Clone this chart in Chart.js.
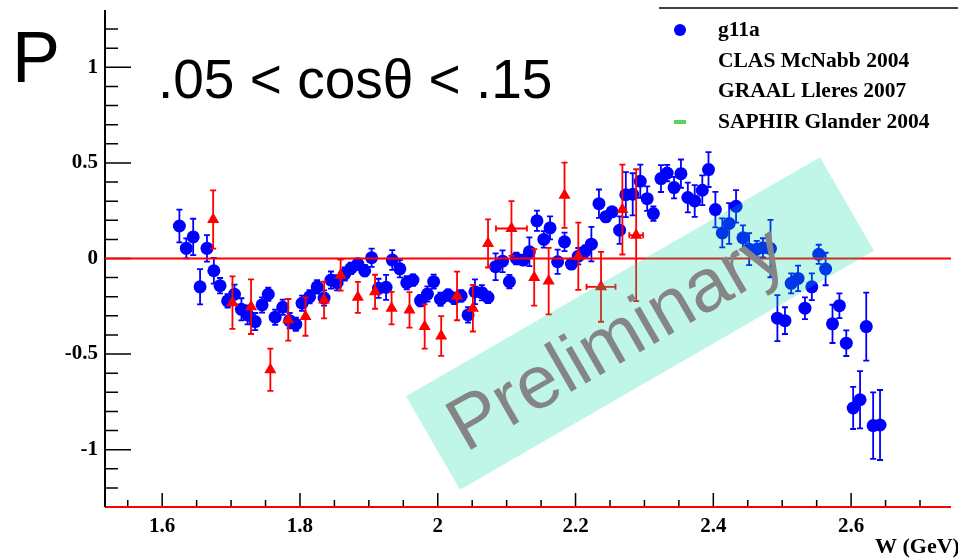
<!DOCTYPE html>
<html>
<head>
<meta charset="utf-8">
<script src="https://cdn.jsdelivr.net/npm/chart.js@4.4.0/dist/chart.umd.min.js"></script>
<style>
  html, body { margin: 0; padding: 0; background: #fff; overflow: hidden; }
  #plot { display: block; }
</style>
</head>
<body>
<canvas id="plot" width="958" height="560"></canvas>
<script>
// g11a beam-recoil polarization P vs W, bin .05 < cos(theta) < .15
const g11aW = [1.625, 1.635, 1.645, 1.655, 1.665, 1.675, 1.684, 1.695, 1.705, 1.715,
  1.724, 1.735, 1.745, 1.754, 1.764, 1.775, 1.785, 1.794, 1.803, 1.814,
  1.825, 1.835, 1.845, 1.854, 1.865, 1.874, 1.884, 1.894, 1.904, 1.914,
  1.925, 1.934, 1.945, 1.955, 1.964, 1.975, 1.985, 1.994, 2.004, 2.015,
  2.024, 2.034, 2.044, 2.054, 2.064, 2.073, 2.084, 2.094, 2.104, 2.114,
  2.124, 2.133, 2.144, 2.154, 2.163, 2.174, 2.184, 2.194, 2.204, 2.214,
  2.223, 2.234, 2.244, 2.253, 2.264, 2.273, 2.283, 2.294, 2.304, 2.313,
  2.324, 2.333, 2.343, 2.353, 2.363, 2.373, 2.384, 2.393, 2.403, 2.413,
  2.423, 2.433, 2.443, 2.452, 2.463, 2.472, 2.483, 2.493, 2.504, 2.513,
  2.523, 2.533, 2.543, 2.553, 2.563, 2.573, 2.583, 2.593, 2.603, 2.613,
  2.622, 2.632, 2.642];
const g11aP = [0.170, 0.053, 0.113, -0.148, 0.053, -0.064, -0.142, -0.222, -0.187, -0.266,
  -0.295, -0.330, -0.243, -0.187, -0.307, -0.255, -0.325, -0.344, -0.234, -0.200,
  -0.148, -0.207, -0.113, -0.127, -0.081, -0.052, -0.029, -0.064, 0.004, -0.156,
  -0.151, -0.008, -0.054, -0.127, -0.113, -0.220, -0.186, -0.121, -0.213, -0.191,
  -0.208, -0.196, -0.295, -0.174, -0.179, -0.203, -0.043, -0.014, -0.121, 0.000,
  -0.008, 0.035, 0.197, 0.100, 0.160, -0.017, 0.087, -0.029, 0.012, 0.039,
  0.075, 0.287, 0.218, 0.244, 0.148, 0.334, 0.336, 0.404, 0.313, 0.235,
  0.418, 0.447, 0.371, 0.444, 0.319, 0.301, 0.357, 0.465, 0.256, 0.134,
  0.183, 0.273, 0.108, 0.049, 0.049, 0.056, 0.052, -0.312, -0.325, -0.130,
  -0.104, -0.260, -0.148, 0.022, -0.055, -0.342, -0.247, -0.443, -0.782, -0.739,
  -0.356, -0.874, -0.871];
const g11aErr = [0.086, 0.052, 0.095, 0.092, 0.069, 0.067, 0.040, 0.035, 0.050, 0.058,
  0.050, 0.045, 0.040, 0.035, 0.040, 0.040, 0.040, 0.035, 0.040, 0.035,
  0.035, 0.040, 0.045, 0.040, 0.035, 0.030, 0.030, 0.030, 0.048, 0.050,
  0.065, 0.052, 0.045, 0.035, 0.030, 0.030, 0.040, 0.037, 0.035, 0.030,
  0.030, 0.030, 0.040, 0.065, 0.040, 0.030, 0.070, 0.057, 0.035, 0.030,
  0.026, 0.075, 0.053, 0.043, 0.060, 0.063, 0.048, 0.026, 0.043, 0.030,
  0.090, 0.074, 0.026, 0.017, 0.072, 0.118, 0.110, 0.087, 0.064, 0.038,
  0.070, 0.043, 0.056, 0.074, 0.078, 0.083, 0.078, 0.091, 0.093, 0.076,
  0.107, 0.085, 0.065, 0.084, 0.043, 0.050, 0.150, 0.120, 0.070, 0.052,
  0.067, 0.057, 0.070, 0.050, 0.085, 0.100, 0.065, 0.067, 0.110, 0.150,
  0.178, 0.174, 0.183];

// CLAS McNabb 2004
const clasW = [1.674, 1.702, 1.729, 1.757, 1.783, 1.808, 1.835, 1.859, 1.884, 1.909,
  1.933, 1.959, 1.981, 2.005, 2.028, 2.051, 2.073, 2.140, 2.161, 2.184,
  2.204, 2.268];
const clasP = [0.204, -0.231, -0.252, -0.582, -0.321, -0.304, -0.217, -0.087, -0.203, -0.174,
  -0.260, -0.269, -0.356, -0.405, -0.196, -0.260, 0.079, -0.099, -0.118, 0.331,
  0.012, 0.256];
const clasErr = [0.152, 0.137, 0.143, 0.110, 0.109, 0.100, 0.096, 0.081, 0.081, 0.089,
  0.085, 0.093, 0.116, 0.104, 0.127, 0.122, 0.126, 0.148, 0.174, 0.171,
  0.176, 0.235];

// GRAAL Lleres 2007 (binned in W)
const graalW = [2.107, 2.237, 2.288];
const graalP = [0.157, -0.148, 0.122];
const graalErr = [0.143, 0.183, 0.345];
const graalWErr = [0.0225, 0.021, 0.010];

const xTickLabels = [1.6, 1.8, 2, 2.2, 2.4, 2.6];
const yTickLabels = [-1, -0.5, 0, 0.5, 1];
const legendLabels = ['g11a', 'CLAS McNabb 2004', 'GRAAL Lleres 2007', 'SAPHIR Glander 2004'];

const X_MIN = 1.517, X_MAX = 2.745;
const Y_MIN = -1.3, Y_MAX = 1.3;

const tickFont = { family: 'Liberation Serif', weight: 'bold', size: 21 };

function points(xs, ys) {
  return xs.map((x, i) => ({ x: x, y: ys[i] }));
}

// error bars drawn just before each dataset's markers
const errorBars = {
  id: 'errorBars',
  beforeDatasetDraw(chart, args) {
    const ds = chart.data.datasets[args.index];
    if (!ds.errY) return;
    const ctx = chart.ctx;
    const xs = chart.scales.x, ys = chart.scales.y;
    ctx.save();
    ctx.strokeStyle = ds.borderColor;
    ctx.lineWidth = 1.8;
    ds.data.forEach((p, i) => {
      const px = xs.getPixelForValue(p.x);
      const top = ys.getPixelForValue(p.y + ds.errY[i]);
      const bot = ys.getPixelForValue(p.y - ds.errY[i]);
      ctx.beginPath();
      ctx.moveTo(px, top); ctx.lineTo(px, bot);
      ctx.moveTo(px - 3, top); ctx.lineTo(px + 3, top);
      ctx.moveTo(px - 3, bot); ctx.lineTo(px + 3, bot);
      if (ds.errX) {
        const py = ys.getPixelForValue(p.y);
        const l = xs.getPixelForValue(p.x - ds.errX[i]);
        const r = xs.getPixelForValue(p.x + ds.errX[i]);
        ctx.moveTo(l, py); ctx.lineTo(r, py);
        ctx.moveTo(l, py - 3); ctx.lineTo(l, py + 3);
        ctx.moveTo(r, py - 3); ctx.lineTo(r, py + 3);
      }
      ctx.stroke();
    });
    ctx.restore();
  }
};

// ROOT style frame: axis lines with inward ticks, zero line, labels, legend, watermark
const decorations = {
  id: 'decorations',
  beforeDatasetsDraw(chart) {
    const ctx = chart.ctx, a = chart.chartArea;
    const xs = chart.scales.x, ys = chart.scales.y;
    ctx.save();
    ctx.strokeStyle = '#000';
    ctx.lineWidth = 2;
    ctx.beginPath();
    ctx.moveTo(a.left, a.top); ctx.lineTo(a.left, a.bottom);
    ctx.moveTo(a.left, a.bottom); ctx.lineTo(a.right, a.bottom);
    ctx.stroke();
    ctx.lineWidth = 1.5;
    ctx.beginPath();
    for (let k = -12; k <= 12; k++) {
      const y = ys.getPixelForValue(k / 10);
      const len = k % 5 === 0 ? 26 : 13;
      ctx.moveTo(a.left, y); ctx.lineTo(a.left + len, y);
    }
    for (let k = 31; k <= 54; k++) {
      const x = xs.getPixelForValue(k / 20);
      const len = k % 4 === 0 ? 14 : 7;
      ctx.moveTo(x, a.bottom); ctx.lineTo(x, a.bottom - len);
    }
    ctx.stroke();
    ctx.restore();
  },
  afterDatasetsDraw(chart) {
    const ctx = chart.ctx, a = chart.chartArea;
    const ys = chart.scales.y;
    ctx.save();
    ctx.strokeStyle = '#ff0000';
    ctx.lineWidth = 2;
    ctx.beginPath();
    const y0 = ys.getPixelForValue(0);
    ctx.moveTo(a.left, y0); ctx.lineTo(a.right, y0);
    ctx.moveTo(a.left + 1, a.bottom); ctx.lineTo(a.right, a.bottom);
    ctx.stroke();
    ctx.restore();
  },
  afterDraw(chart) {
    const ctx = chart.ctx;
    ctx.save();

    // watermark
    ctx.translate(640, 323.5);
    ctx.rotate(-30 * Math.PI / 180);
    ctx.fillStyle = 'rgba(0, 220, 160, 0.25)';
    ctx.fillRect(-239, -54, 478, 108);
    ctx.fillStyle = '#858585';
    ctx.font = '75px "Liberation Sans"';
    ctx.textAlign = 'center';
    ctx.textBaseline = 'middle';
    ctx.fillText('Preliminary', -28, 4);
    ctx.setTransform(1, 0, 0, 1, 0, 0);

    // axis title and bin label
    ctx.fillStyle = '#000';
    ctx.textAlign = 'left';
    ctx.textBaseline = 'alphabetic';
    ctx.font = '72px "Liberation Sans"';
    ctx.fillText('P', 12, 82);
    ctx.font = '55px "Liberation Sans"';
    ctx.fillText('.05 < cos\u03b8 < .15', 158, 98);
    ctx.font = 'bold 22px "Liberation Serif"';
    ctx.textBaseline = 'middle';
    ctx.fillText('W (GeV)', 875, 547);

    // legend
    ctx.strokeStyle = '#444';
    ctx.lineWidth = 2;
    ctx.beginPath();
    ctx.moveTo(659, 8); ctx.lineTo(958, 8);
    ctx.stroke();
    const rows = [30, 61, 91, 122];
    ctx.font = 'bold 21.5px "Liberation Serif"';
    legendLabels.forEach((t, i) => ctx.fillText(t, 718, rows[i]));
    ctx.fillStyle = '#0000ff';
    ctx.beginPath();
    ctx.arc(680, rows[0], 6, 0, Math.PI * 2);
    ctx.fill();
    ctx.fillStyle = '#5bd35b';
    ctx.fillRect(674, rows[3] - 2, 12, 4);
    ctx.restore();
  }
};

new Chart(document.getElementById('plot'), {
  type: 'scatter',
  data: {
    datasets: [
      {
        label: legendLabels[1],
        data: points(clasW, clasP),
        errY: clasErr,
        order: 0,
        pointStyle: 'triangle',
        radius: 7,
        backgroundColor: '#ff0000',
        borderColor: '#ff0000',
        borderWidth: 0
      },
      {
        label: legendLabels[2],
        data: points(graalW, graalP),
        errY: graalErr,
        errX: graalWErr,
        order: 0,
        pointStyle: 'triangle',
        radius: 7,
        backgroundColor: '#ff0000',
        borderColor: '#ff0000',
        borderWidth: 0
      },
      {
        label: legendLabels[0],
        data: points(g11aW, g11aP),
        errY: g11aErr,
        order: 1,
        pointStyle: 'circle',
        radius: 6.5,
        backgroundColor: '#0000ff',
        borderColor: '#0000ff',
        borderWidth: 0
      },
      {
        label: legendLabels[3],
        data: [],
        order: 2,
        backgroundColor: '#5bd35b',
        borderColor: '#5bd35b'
      }
    ]
  },
  options: {
    responsive: false,
    animation: false,
    events: [],
    layout: { padding: { top: 10, right: 0, left: 0, bottom: 0 } },
    plugins: { legend: { display: false }, tooltip: { enabled: false } },
    scales: {
      x: {
        type: 'linear',
        min: X_MIN,
        max: X_MAX,
        grid: { display: false, drawTicks: false },
        border: { display: false },
        ticks: {
          font: tickFont,
          color: '#000',
          padding: 7,
          maxRotation: 0,
          autoSkip: false,
          callback: v => String(v)
        },
        afterBuildTicks: s => { s.ticks = xTickLabels.map(v => ({ value: v })); },
        afterFit: s => { s.height = 53; s.paddingLeft = 0; s.paddingRight = 0; }
      },
      y: {
        min: Y_MIN,
        max: Y_MAX,
        grid: { display: false, drawTicks: false },
        border: { display: false },
        ticks: {
          font: tickFont,
          color: '#000',
          padding: 7,
          autoSkip: false,
          callback: v => String(v)
        },
        afterBuildTicks: s => { s.ticks = yTickLabels.map(v => ({ value: v })); },
        afterFit: s => { s.width = 105; s.paddingTop = 0; s.paddingBottom = 0; }
      }
    }
  },
  plugins: [errorBars, decorations]
});
</script>
</body>
</html>
